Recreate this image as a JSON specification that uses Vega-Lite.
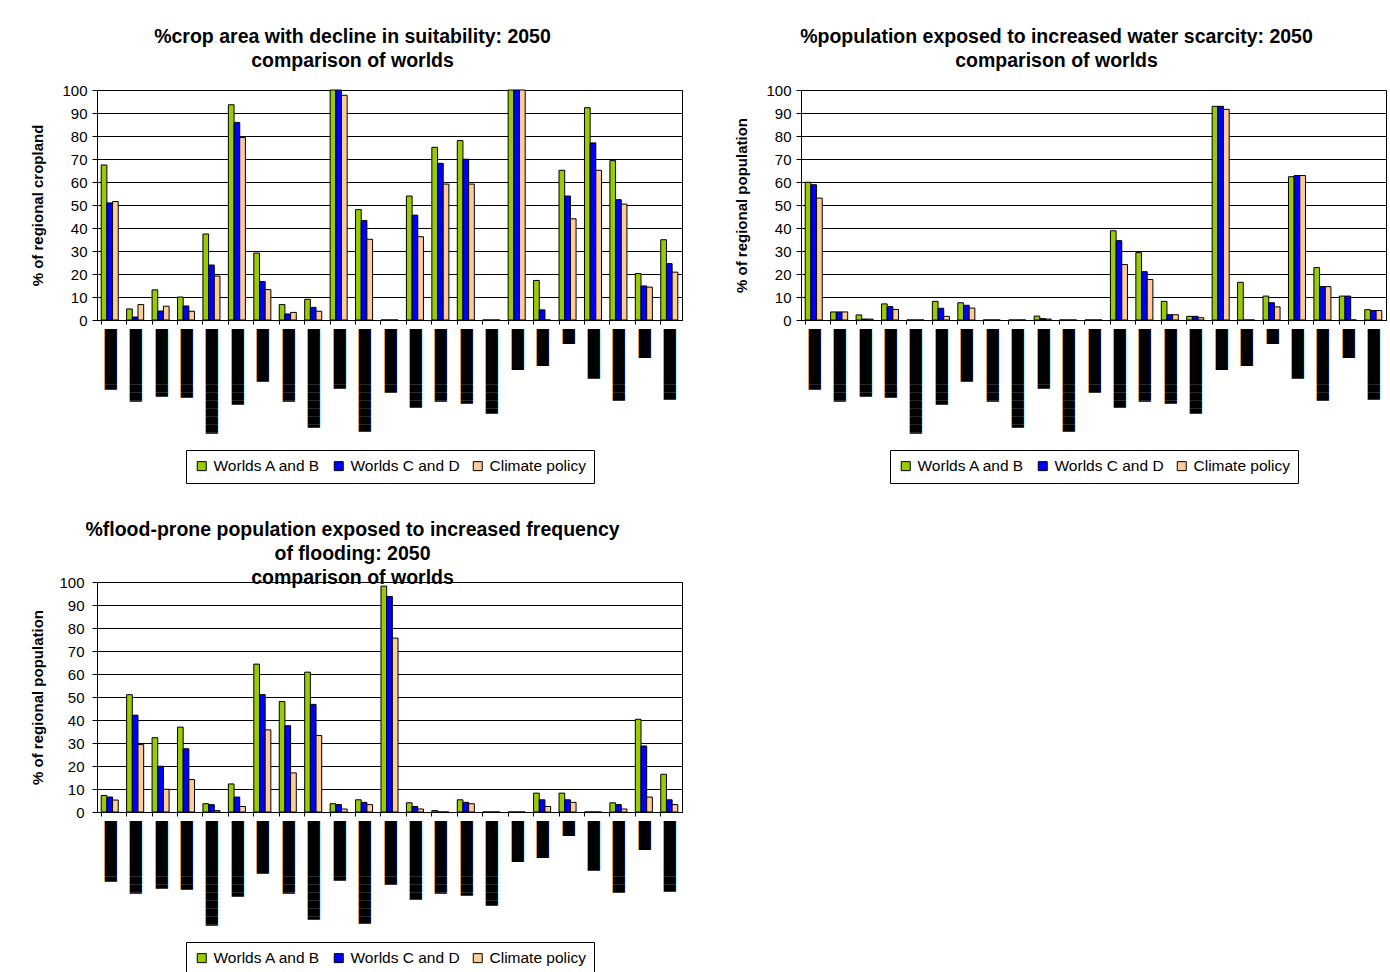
{
  "$schema": "https://vega.github.io/schema/vega-lite/v6.json",
  "padding": {"left": 30, "top": 26, "right": 0, "bottom": 0},
  "params": [
    {"name": "labs", "value": ["███████▋", "█████████▏", "████████▌", "████████▋", "█████████████▏", "█████████▌", "██████▋", "█████████▏", "████████████▍", "███████▌", "████████████▉", "████████", "█████████▉", "█████████▏", "█████████▍", "██████████▋", "█████▏", "████▋", "█▉", "██████▎", "█████████", "███▋", "████████▉"]}
  ],
  "datasets": {
    "crop": [
      {"region": 1, "series": "Worlds A and B", "value": 67.4}, {"region": 1, "series": "Worlds C and D", "value": 50.9}, {"region": 1, "series": "Climate policy", "value": 51.5},
      {"region": 2, "series": "Worlds A and B", "value": 4.8}, {"region": 2, "series": "Worlds C and D", "value": 1.3}, {"region": 2, "series": "Climate policy", "value": 6.7},
      {"region": 3, "series": "Worlds A and B", "value": 13.1}, {"region": 3, "series": "Worlds C and D", "value": 3.9}, {"region": 3, "series": "Climate policy", "value": 6.0},
      {"region": 4, "series": "Worlds A and B", "value": 10.0}, {"region": 4, "series": "Worlds C and D", "value": 6.1}, {"region": 4, "series": "Climate policy", "value": 3.8},
      {"region": 5, "series": "Worlds A and B", "value": 37.4}, {"region": 5, "series": "Worlds C and D", "value": 23.9}, {"region": 5, "series": "Climate policy", "value": 19.1},
      {"region": 6, "series": "Worlds A and B", "value": 93.6}, {"region": 6, "series": "Worlds C and D", "value": 85.9}, {"region": 6, "series": "Climate policy", "value": 79.3},
      {"region": 7, "series": "Worlds A and B", "value": 29.1}, {"region": 7, "series": "Worlds C and D", "value": 16.7}, {"region": 7, "series": "Climate policy", "value": 13.2},
      {"region": 8, "series": "Worlds A and B", "value": 6.7}, {"region": 8, "series": "Worlds C and D", "value": 2.6}, {"region": 8, "series": "Climate policy", "value": 3.3},
      {"region": 9, "series": "Worlds A and B", "value": 9.0}, {"region": 9, "series": "Worlds C and D", "value": 5.5}, {"region": 9, "series": "Climate policy", "value": 3.8},
      {"region": 10, "series": "Worlds A and B", "value": 100}, {"region": 10, "series": "Worlds C and D", "value": 100}, {"region": 10, "series": "Climate policy", "value": 97.7},
      {"region": 11, "series": "Worlds A and B", "value": 48.0}, {"region": 11, "series": "Worlds C and D", "value": 43.2}, {"region": 11, "series": "Climate policy", "value": 35.1},
      {"region": 12, "series": "Worlds A and B", "value": 0}, {"region": 12, "series": "Worlds C and D", "value": 0}, {"region": 12, "series": "Climate policy", "value": 0},
      {"region": 13, "series": "Worlds A and B", "value": 53.9}, {"region": 13, "series": "Worlds C and D", "value": 45.6}, {"region": 13, "series": "Climate policy", "value": 36.2},
      {"region": 14, "series": "Worlds A and B", "value": 75.1}, {"region": 14, "series": "Worlds C and D", "value": 68.1}, {"region": 14, "series": "Climate policy", "value": 59.1},
      {"region": 15, "series": "Worlds A and B", "value": 78.0}, {"region": 15, "series": "Worlds C and D", "value": 69.9}, {"region": 15, "series": "Climate policy", "value": 59.1},
      {"region": 16, "series": "Worlds A and B", "value": 0}, {"region": 16, "series": "Worlds C and D", "value": 0}, {"region": 16, "series": "Climate policy", "value": 0},
      {"region": 17, "series": "Worlds A and B", "value": 100}, {"region": 17, "series": "Worlds C and D", "value": 100}, {"region": 17, "series": "Climate policy", "value": 100},
      {"region": 18, "series": "Worlds A and B", "value": 17.2}, {"region": 18, "series": "Worlds C and D", "value": 4.4}, {"region": 18, "series": "Climate policy", "value": 0},
      {"region": 19, "series": "Worlds A and B", "value": 65.1}, {"region": 19, "series": "Worlds C and D", "value": 53.9}, {"region": 19, "series": "Climate policy", "value": 44.0},
      {"region": 20, "series": "Worlds A and B", "value": 92.3}, {"region": 20, "series": "Worlds C and D", "value": 77.0}, {"region": 20, "series": "Climate policy", "value": 65.1},
      {"region": 21, "series": "Worlds A and B", "value": 69.3}, {"region": 21, "series": "Worlds C and D", "value": 52.3}, {"region": 21, "series": "Climate policy", "value": 50.4},
      {"region": 22, "series": "Worlds A and B", "value": 20.2}, {"region": 22, "series": "Worlds C and D", "value": 14.8}, {"region": 22, "series": "Climate policy", "value": 14.3},
      {"region": 23, "series": "Worlds A and B", "value": 34.9}, {"region": 23, "series": "Worlds C and D", "value": 24.5}, {"region": 23, "series": "Climate policy", "value": 20.8}
    ],
    "water": [
      {"region": 1, "series": "Worlds A and B", "value": 59.9}, {"region": 1, "series": "Worlds C and D", "value": 58.8}, {"region": 1, "series": "Climate policy", "value": 53.0},
      {"region": 2, "series": "Worlds A and B", "value": 3.5}, {"region": 2, "series": "Worlds C and D", "value": 3.5}, {"region": 2, "series": "Climate policy", "value": 3.5},
      {"region": 3, "series": "Worlds A and B", "value": 2.2}, {"region": 3, "series": "Worlds C and D", "value": 0.4}, {"region": 3, "series": "Climate policy", "value": 0.4},
      {"region": 4, "series": "Worlds A and B", "value": 7.0}, {"region": 4, "series": "Worlds C and D", "value": 5.8}, {"region": 4, "series": "Climate policy", "value": 4.6},
      {"region": 5, "series": "Worlds A and B", "value": 0}, {"region": 5, "series": "Worlds C and D", "value": 0}, {"region": 5, "series": "Climate policy", "value": 0},
      {"region": 6, "series": "Worlds A and B", "value": 8.1}, {"region": 6, "series": "Worlds C and D", "value": 5.1}, {"region": 6, "series": "Climate policy", "value": 1.6},
      {"region": 7, "series": "Worlds A and B", "value": 7.5}, {"region": 7, "series": "Worlds C and D", "value": 6.4}, {"region": 7, "series": "Climate policy", "value": 5.2},
      {"region": 8, "series": "Worlds A and B", "value": 0}, {"region": 8, "series": "Worlds C and D", "value": 0}, {"region": 8, "series": "Climate policy", "value": 0},
      {"region": 9, "series": "Worlds A and B", "value": 0}, {"region": 9, "series": "Worlds C and D", "value": 0}, {"region": 9, "series": "Climate policy", "value": 0},
      {"region": 10, "series": "Worlds A and B", "value": 1.7}, {"region": 10, "series": "Worlds C and D", "value": 0.6}, {"region": 10, "series": "Climate policy", "value": 0.4},
      {"region": 11, "series": "Worlds A and B", "value": 0}, {"region": 11, "series": "Worlds C and D", "value": 0}, {"region": 11, "series": "Climate policy", "value": 0},
      {"region": 12, "series": "Worlds A and B", "value": 0}, {"region": 12, "series": "Worlds C and D", "value": 0}, {"region": 12, "series": "Climate policy", "value": 0},
      {"region": 13, "series": "Worlds A and B", "value": 38.8}, {"region": 13, "series": "Worlds C and D", "value": 34.5}, {"region": 13, "series": "Climate policy", "value": 24.1},
      {"region": 14, "series": "Worlds A and B", "value": 29.3}, {"region": 14, "series": "Worlds C and D", "value": 21.0}, {"region": 14, "series": "Climate policy", "value": 17.6},
      {"region": 15, "series": "Worlds A and B", "value": 8.1}, {"region": 15, "series": "Worlds C and D", "value": 2.3}, {"region": 15, "series": "Climate policy", "value": 2.3},
      {"region": 16, "series": "Worlds A and B", "value": 1.6}, {"region": 16, "series": "Worlds C and D", "value": 1.6}, {"region": 16, "series": "Climate policy", "value": 1.0},
      {"region": 17, "series": "Worlds A and B", "value": 92.9}, {"region": 17, "series": "Worlds C and D", "value": 92.9}, {"region": 17, "series": "Climate policy", "value": 91.6},
      {"region": 18, "series": "Worlds A and B", "value": 16.4}, {"region": 18, "series": "Worlds C and D", "value": 0}, {"region": 18, "series": "Climate policy", "value": 0},
      {"region": 19, "series": "Worlds A and B", "value": 10.4}, {"region": 19, "series": "Worlds C and D", "value": 7.5}, {"region": 19, "series": "Climate policy", "value": 5.7},
      {"region": 20, "series": "Worlds A and B", "value": 62.3}, {"region": 20, "series": "Worlds C and D", "value": 62.8}, {"region": 20, "series": "Climate policy", "value": 62.8},
      {"region": 21, "series": "Worlds A and B", "value": 22.8}, {"region": 21, "series": "Worlds C and D", "value": 14.5}, {"region": 21, "series": "Climate policy", "value": 14.5},
      {"region": 22, "series": "Worlds A and B", "value": 10.4}, {"region": 22, "series": "Worlds C and D", "value": 10.4}, {"region": 22, "series": "Climate policy", "value": 0},
      {"region": 23, "series": "Worlds A and B", "value": 4.5}, {"region": 23, "series": "Worlds C and D", "value": 4.1}, {"region": 23, "series": "Climate policy", "value": 4.1}
    ],
    "flood": [
      {"region": 1, "series": "Worlds A and B", "value": 7.2}, {"region": 1, "series": "Worlds C and D", "value": 6.5}, {"region": 1, "series": "Climate policy", "value": 5.2},
      {"region": 2, "series": "Worlds A and B", "value": 51.0}, {"region": 2, "series": "Worlds C and D", "value": 42.1}, {"region": 2, "series": "Climate policy", "value": 29.3},
      {"region": 3, "series": "Worlds A and B", "value": 32.3}, {"region": 3, "series": "Worlds C and D", "value": 19.9}, {"region": 3, "series": "Climate policy", "value": 9.9},
      {"region": 4, "series": "Worlds A and B", "value": 36.9}, {"region": 4, "series": "Worlds C and D", "value": 27.5}, {"region": 4, "series": "Climate policy", "value": 14.1},
      {"region": 5, "series": "Worlds A and B", "value": 3.6}, {"region": 5, "series": "Worlds C and D", "value": 3.2}, {"region": 5, "series": "Climate policy", "value": 0.6},
      {"region": 6, "series": "Worlds A and B", "value": 12.2}, {"region": 6, "series": "Worlds C and D", "value": 6.5}, {"region": 6, "series": "Climate policy", "value": 2.4},
      {"region": 7, "series": "Worlds A and B", "value": 64.3}, {"region": 7, "series": "Worlds C and D", "value": 51.0}, {"region": 7, "series": "Climate policy", "value": 35.7},
      {"region": 8, "series": "Worlds A and B", "value": 48.0}, {"region": 8, "series": "Worlds C and D", "value": 37.5}, {"region": 8, "series": "Climate policy", "value": 17.0},
      {"region": 9, "series": "Worlds A and B", "value": 60.8}, {"region": 9, "series": "Worlds C and D", "value": 46.8}, {"region": 9, "series": "Climate policy", "value": 33.3},
      {"region": 10, "series": "Worlds A and B", "value": 3.6}, {"region": 10, "series": "Worlds C and D", "value": 3.2}, {"region": 10, "series": "Climate policy", "value": 1.3},
      {"region": 11, "series": "Worlds A and B", "value": 5.3}, {"region": 11, "series": "Worlds C and D", "value": 4.2}, {"region": 11, "series": "Climate policy", "value": 3.2},
      {"region": 12, "series": "Worlds A and B", "value": 98.2}, {"region": 12, "series": "Worlds C and D", "value": 93.7}, {"region": 12, "series": "Climate policy", "value": 75.6},
      {"region": 13, "series": "Worlds A and B", "value": 4.0}, {"region": 13, "series": "Worlds C and D", "value": 2.4}, {"region": 13, "series": "Climate policy", "value": 1.3},
      {"region": 14, "series": "Worlds A and B", "value": 0.6}, {"region": 14, "series": "Worlds C and D", "value": 0}, {"region": 14, "series": "Climate policy", "value": 0},
      {"region": 15, "series": "Worlds A and B", "value": 5.3}, {"region": 15, "series": "Worlds C and D", "value": 4.2}, {"region": 15, "series": "Climate policy", "value": 3.6},
      {"region": 16, "series": "Worlds A and B", "value": 0}, {"region": 16, "series": "Worlds C and D", "value": 0}, {"region": 16, "series": "Climate policy", "value": 0},
      {"region": 17, "series": "Worlds A and B", "value": 0}, {"region": 17, "series": "Worlds C and D", "value": 0}, {"region": 17, "series": "Climate policy", "value": 0},
      {"region": 18, "series": "Worlds A and B", "value": 8.2}, {"region": 18, "series": "Worlds C and D", "value": 5.3}, {"region": 18, "series": "Climate policy", "value": 2.4},
      {"region": 19, "series": "Worlds A and B", "value": 8.2}, {"region": 19, "series": "Worlds C and D", "value": 5.3}, {"region": 19, "series": "Climate policy", "value": 4.2},
      {"region": 20, "series": "Worlds A and B", "value": 0}, {"region": 20, "series": "Worlds C and D", "value": 0}, {"region": 20, "series": "Climate policy", "value": 0},
      {"region": 21, "series": "Worlds A and B", "value": 4.0}, {"region": 21, "series": "Worlds C and D", "value": 3.2}, {"region": 21, "series": "Climate policy", "value": 1.3},
      {"region": 22, "series": "Worlds A and B", "value": 40.3}, {"region": 22, "series": "Worlds C and D", "value": 28.7}, {"region": 22, "series": "Climate policy", "value": 6.5},
      {"region": 23, "series": "Worlds A and B", "value": 16.4}, {"region": 23, "series": "Worlds C and D", "value": 5.3}, {"region": 23, "series": "Climate policy", "value": 3.2}
    ]
  },
  "config": {
    "font": "Liberation Sans",
    "view": {"stroke": "black", "strokeWidth": 1},
    "title": {"fontSize": 19.5, "fontWeight": "bold", "color": "black", "lineHeight": 24, "anchor": "middle", "dx": -37},
    "axis": {"labelFont": "Liberation Sans", "labelFontSize": 15, "labelColor": "black", "titleColor": "black", "domainColor": "black", "tickColor": "black", "gridColor": "black", "gridOpacity": 1},
    "legend": {"orient": "bottom", "direction": "horizontal", "title": null, "symbolType": "square", "symbolSize": 81, "symbolStrokeColor": "black", "symbolStrokeWidth": 1, "labelFontSize": 15.5, "labelColor": "black", "labelOffset": 4, "columnPadding": 10, "strokeColor": "black", "padding": 8, "offset": 9, "layout": {"bottom": {"anchor": "middle"}}}
  },
  "spacing": 35,
  "resolve": {"scale": {"color": "independent"}, "legend": {"color": "independent"}},
  "vconcat": [
    {
      "spacing": 51,
      "resolve": {"scale": {"color": "independent"}, "legend": {"color": "independent"}},
      "hconcat": [
        {
          "width": 585, "height": 230,
          "title": {"text": ["%crop area with decline in suitability: 2050", "comparison of worlds"], "offset": 12},
          "data": {"name": "crop"},
          "mark": {"type": "bar", "stroke": "black", "strokeWidth": 1},
          "encoding": {
            "x": {"field": "region", "type": "ordinal", "scale": {"paddingInner": 0.33, "paddingOuter": 0.165}, "axis": {"title": null, "labelExpr": "labs[datum.value - 1]", "labelAngle": 90, "labelFont": "DejaVu Sans", "labelFontSize": 10.39, "labelPadding": 4.5, "tickSize": 4, "bandPosition": 0, "labelOverlap": false, "labelBound": false, "labelLimit": 0}},
            "xOffset": {"field": "series", "type": "nominal", "sort": ["Worlds A and B", "Worlds C and D", "Climate policy"], "scale": {"paddingInner": 0}},
            "y": {"field": "value", "type": "quantitative", "scale": {"domain": [0, 100], "nice": false}, "axis": {"title": "% of regional cropland", "values": [0, 10, 20, 30, 40, 50, 60, 70, 80, 90, 100], "grid": true, "tickSize": 5, "labelPadding": 5, "titleFontSize": 15, "titleFontWeight": "bold", "titlePadding": 16}},
            "color": {"field": "series", "type": "nominal", "sort": ["Worlds A and B", "Worlds C and D", "Climate policy"], "scale": {"domain": ["Worlds A and B", "Worlds C and D", "Climate policy"], "range": ["#99CC00", "#0000FF", "#FFCC99"]}}
          }
        },
        {
          "width": 585, "height": 230,
          "title": {"text": ["%population exposed to increased water scarcity: 2050", "comparison of worlds"], "offset": 12},
          "data": {"name": "water"},
          "mark": {"type": "bar", "stroke": "black", "strokeWidth": 1},
          "encoding": {
            "x": {"field": "region", "type": "ordinal", "scale": {"paddingInner": 0.33, "paddingOuter": 0.165}, "axis": {"title": null, "labelExpr": "labs[datum.value - 1]", "labelAngle": 90, "labelFont": "DejaVu Sans", "labelFontSize": 10.39, "labelPadding": 4.5, "tickSize": 4, "bandPosition": 0, "labelOverlap": false, "labelBound": false, "labelLimit": 0}},
            "xOffset": {"field": "series", "type": "nominal", "sort": ["Worlds A and B", "Worlds C and D", "Climate policy"], "scale": {"paddingInner": 0}},
            "y": {"field": "value", "type": "quantitative", "scale": {"domain": [0, 100], "nice": false}, "axis": {"title": "% of regional population", "values": [0, 10, 20, 30, 40, 50, 60, 70, 80, 90, 100], "grid": true, "tickSize": 5, "labelPadding": 5, "titleFontSize": 15, "titleFontWeight": "bold", "titlePadding": 16}},
            "color": {"field": "series", "type": "nominal", "sort": ["Worlds A and B", "Worlds C and D", "Climate policy"], "scale": {"domain": ["Worlds A and B", "Worlds C and D", "Climate policy"], "range": ["#99CC00", "#0000FF", "#FFCC99"]}}
          }
        }
      ]
    },
    {
      "width": 585, "height": 230,
      "title": {"text": ["%flood-prone population exposed to increased frequency", "of flooding: 2050", "comparison of worlds"], "offset": -13},
      "data": {"name": "flood"},
      "mark": {"type": "bar", "stroke": "black", "strokeWidth": 1},
      "encoding": {
        "x": {"field": "region", "type": "ordinal", "scale": {"paddingInner": 0.33, "paddingOuter": 0.165}, "axis": {"title": null, "labelExpr": "labs[datum.value - 1]", "labelAngle": 90, "labelFont": "DejaVu Sans", "labelFontSize": 10.39, "labelPadding": 4.5, "tickSize": 4, "bandPosition": 0, "labelOverlap": false, "labelBound": false, "labelLimit": 0}},
        "xOffset": {"field": "series", "type": "nominal", "sort": ["Worlds A and B", "Worlds C and D", "Climate policy"], "scale": {"paddingInner": 0}},
        "y": {"field": "value", "type": "quantitative", "scale": {"domain": [0, 100], "nice": false}, "axis": {"title": "% of regional population", "values": [0, 10, 20, 30, 40, 50, 60, 70, 80, 90, 100], "grid": true, "tickSize": 5, "labelPadding": 8, "titleFontSize": 15, "titleFontWeight": "bold", "titlePadding": 13}},
        "color": {"field": "series", "type": "nominal", "sort": ["Worlds A and B", "Worlds C and D", "Climate policy"], "scale": {"domain": ["Worlds A and B", "Worlds C and D", "Climate policy"], "range": ["#99CC00", "#0000FF", "#FFCC99"]}}
      }
    }
  ]
}
